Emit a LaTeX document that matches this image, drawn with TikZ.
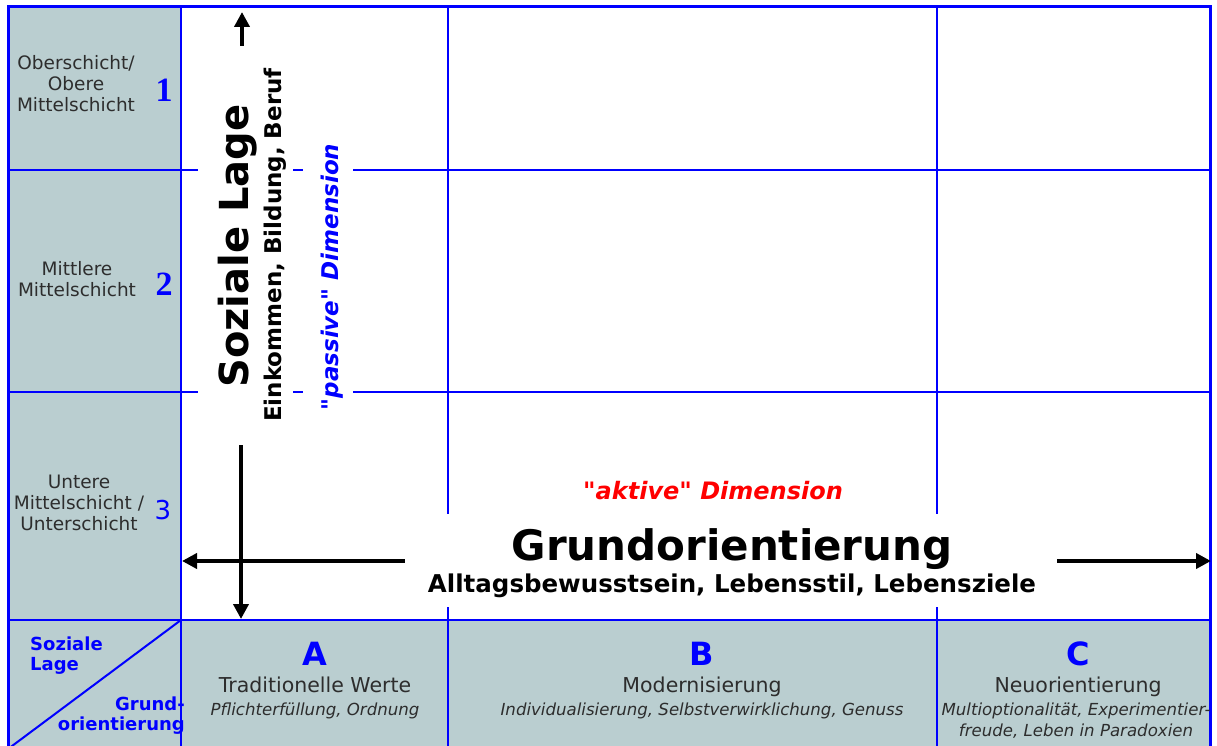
\documentclass[tikz,border=0pt]{standalone}
\usepackage{fontspec}
\setmainfont{DejaVu Sans}[Ligatures=TeXOff]
\newfontfamily\numserif{Liberation Serif}
\usetikzlibrary{arrows.meta}
\definecolor{cellgray}{RGB}{186,206,208}
\definecolor{gridblue}{RGB}{0,0,255}
\definecolor{dimred}{RGB}{255,0,0}
\definecolor{labelgray}{RGB}{45,45,45}
\newcommand{\sq}{\symbol{34}}
\begin{document}
\begin{tikzpicture}[x=1pt,y=-1pt,
  gridline/.style={gridblue, line width=2pt},
  frameline/.style={gridblue, line width=3pt},
  rowlabel/.style={labelgray, align=center, inner sep=0pt, font=\fontsize{18.5}{21}\selectfont},
  rownum/.style={gridblue, inner sep=0pt, anchor=base, font=\fontsize{34}{34}\numserif\bfseries},
  corner/.style={gridblue, inner sep=0pt, font=\fontsize{18}{20}\selectfont\bfseries},
  colletter/.style={gridblue, inner sep=0pt, anchor=base, font=\fontsize{32}{32}\selectfont\bfseries},
  colname/.style={labelgray, inner sep=0pt, anchor=base, font=\fontsize{20.5}{22}\selectfont},
  colsub/.style={labelgray, inner sep=0pt, anchor=base, font=\fontsize{16.6}{20}\selectfont\itshape},
  axis/.style={black, line width=4pt, -{Triangle[length=15pt,width=15pt]}},
  vtext/.style={rotate=90, anchor=base, inner sep=0pt},
  gapbox/.style={fill=white, draw=none, inner sep=0pt}
]
\useasboundingbox (0,0) rectangle (1217,746);
% grey cells
\fill[cellgray] (8,7) rectangle (181,746);
\fill[cellgray] (181,620) rectangle (1210,746);
% grid
\draw[gridline] (181,7) -- (181,746);
\draw[gridline] (448,7) -- (448,746);
\draw[gridline] (937,7) -- (937,746);
\draw[gridline] (8,170) -- (1210,170);
\draw[gridline] (8,392) -- (1210,392);
\draw[gridline] (8,620) -- (1210,620);
\draw[gridline] (181,620) -- (8,749);
\draw[frameline] (8,746) -- (8,7) -- (1210,7) -- (1210,746);
% white gaps behind vertical texts
\fill[white] (198,150) rectangle (293,410);
\fill[white] (303,140) rectangle (353,415);

% row labels
\node[rowlabel] (r1) at (76,84) {Oberschicht/\\Obere\\Mittelschicht};
\node[rownum] (n1) at (164,102) {1};
\node[rowlabel] (r2) at (77,279) {Mittlere\\Mittelschicht};
\node[rownum] (n2) at (164,295) {2};
\node[rowlabel] (r3) at (79,503) {Untere\\Mittelschicht /\\Unterschicht};
\node[gridblue, inner sep=0pt, anchor=base, font=\fontsize{26}{26}\selectfont] (n3) at (163,519) {3};

% corner labels
\node[corner, align=left, anchor=west] (cs) at (30,656) {Soziale\\Lage};
\node[corner, align=right, anchor=east] (cg) at (185,716) {Grund-\\orientierung};

% vertical axis texts
\node[vtext, font=\fontsize{40}{40}\selectfont\bfseries] (soz) at (248,246) {Soziale Lage};
\node[vtext, font=\fontsize{23}{23}\selectfont\bfseries] (ein) at (281,245) {Einkommen, Bildung, Beruf};
\node[vtext, gridblue, font=\fontsize{23}{23}\selectfont\bfseries\itshape] (pas) at (338,277) {\sq passive\sq{} Dimension};

% vertical arrows
\coordinate (vtopstart) at (242,46);
\coordinate (vtop) at (242,12);
\draw[axis] (vtopstart) -- (vtop);
\coordinate (vbotstart) at (241,445);
\coordinate (vbot) at (241,619);
\draw[axis] (vbotstart) -- (vbot);

% horizontal axis
\node[gapbox, minimum width=652pt, minimum height=93pt] (gbox) at (731,560) {};
\node[inner sep=0pt, anchor=base, font=\fontsize{42}{42}\selectfont\bfseries] (gtitle) at (732,560) {Grundorientierung};
\node[inner sep=0pt, anchor=base, font=\fontsize{24.5}{25}\selectfont\bfseries] (gsub) at (732,592) {Alltagsbewusstsein, Lebensstil, Lebensziele};
\node[dimred, inner sep=0pt, anchor=base, font=\fontsize{24}{24}\selectfont\bfseries\itshape] (akt) at (713,499) {\sq aktive\sq{} Dimension};
\coordinate (hleft) at (182,561);
\coordinate (hright) at (1211,561);
\draw[axis] (gbox.west |- hleft) -- (hleft);
\draw[axis] (gbox.east |- hright) -- (hright);

% column heads
\node[colletter] (ca) at (315,665) {A};
\node[colname] (cna) at (315,692) {Traditionelle Werte};
\node[colsub] (csa) at (315,715) {Pflichterfüllung, Ordnung};
\node[colletter] (cb) at (702,665) {B};
\node[colname] (cnb) at (702,692) {Modernisierung};
\node[colsub] (csb) at (702,715) {Individualisierung, Selbstverwirklichung, Genuss};
\node[colletter] (cc) at (1078,665) {C};
\node[colname] (cnc) at (1078,692) {Neuorientierung};
\node[colsub] (csc1) at (1076,715) {Multioptionalität, Experimentier-};
\node[colsub] (csc2) at (1076,736) {freude, Leben in Paradoxien};
\end{tikzpicture}
\end{document}
